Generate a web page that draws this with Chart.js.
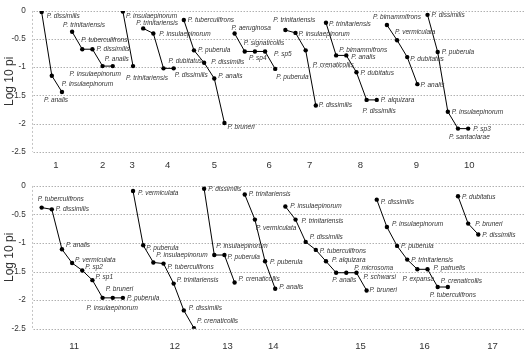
<!DOCTYPE html>
<html>
<head>
<meta charset="utf-8">
<script src="https://cdn.jsdelivr.net/npm/chart.js@4"></script>
<style>
  html, body { margin: 0; padding: 0; background: #fff; }
  canvas { position: absolute; left: 0; }
  #top { top: 0; }
  #bottom { top: 175px; }
</style>
</head>
<body>
<canvas id="top" width="528" height="175"></canvas>
<canvas id="bottom" width="528" height="181"></canvas>
<script>
// upper panel: groups 1-10
var topGroups = ['1', '2', '3', '4', '5', '6', '7', '8', '9', '10'];
var topTickPos = [1.4, 6.0, 8.9, 12.4, 17.0, 22.4, 26.4, 31.4, 36.9, 42.1];
var topSpecies = [
  ['P. dissimilis', 'P. insulaepinorum', 'P. analis'],
  ['P. trinitariensis', 'P. tuberculifrons', 'P. dissimilis', 'P. insulaepinorum', 'P. analis'],
  ['P. insulaepinorum', 'P. trinitariensis'],
  ['P. trinitariensis', 'P. insulaepinorum', 'P. dubitatus', 'P. dissimilis'],
  ['P. tuberculifrons', 'P. puberula', 'P. dissimilis', 'P. analis', 'P. bruneri'],
  ['P. aeruginosa', 'P. signaticollis', 'P. sp4', 'P. sp5', 'P. puberula'],
  ['P. trinitariensis', 'P. insulaepinorum', 'P. crenaticollis', 'P. dissimilis'],
  ['P. trinitariensis', 'P. bimammifrons', 'P. analis', 'P. dubitatus', 'P. dissimilis', 'P. alquizara'],
  ['P. bimammifrons', 'P. vermiculata', 'P. dubitatus', 'P. analis'],
  ['P. dissimilis', 'P. puberula', 'P. insulaepinorum', 'P. santaclarae', 'P. sp3']
];
var topValues = [
  [-0.02, -1.15, -1.44],
  [-0.37, -0.68, -0.68, -0.98, -0.98],
  [-0.01, -0.98],
  [-0.31, -0.40, -1.02, -1.02],
  [-0.16, -0.70, -0.92, -1.20, -1.99],
  [-0.40, -0.72, -0.72, -0.72, -1.03],
  [-0.34, -0.39, -0.70, -1.68],
  [-0.21, -0.79, -0.79, -1.09, -1.58, -1.58],
  [-0.25, -0.52, -0.82, -1.30],
  [-0.07, -0.73, -1.79, -2.09, -2.09]
];

// lower panel: groups 11-17
var bottomGroups = ['11', '12', '13', '14', '15', '16', '17'];
var bottomTickPos = [3.2, 13.1, 18.3, 22.8, 31.4, 37.7, 44.4];
var bottomSpecies = [
  ['P. tuberculifrons', 'P. dissimilis', 'P. analis', 'P. vermiculata', 'P. sp2', 'P. sp1', 'P. insulaepinorum', 'P. bruneri', 'P. puberula'],
  ['P. vermiculata', 'P. puberula', 'P. insulaepinorum', 'P. tuberculifrons', 'P. trinitariensis', 'P. dissimilis', 'P. crenaticollis'],
  ['P. dissimilis', 'P. insulaepinorum', 'P. puberula', 'P. crenaticollis'],
  ['P. trinitariensis', 'P. vermiculata', 'P. puberula', 'P. analis'],
  ['P. insulaepinorum', 'P. trinitariensis', 'P. dissimilis', 'P. tuberculifrons', 'P. alquizara', 'P. analis', 'P. microsoma', 'P. schwarsi', 'P. bruneri'],
  ['P. dissimilis', 'P. insulaepinorum', 'P. puberula', 'P. trinitariensis', 'P. expansa', 'P. patruelis', 'P. tuberculifrons', 'P. crenaticollis'],
  ['P. dubitatus', 'P. bruneri', 'P. dissimilis']
];
var bottomValues = [
  [-0.38, -0.41, -1.11, -1.35, -1.48, -1.65, -1.96, -1.96, -1.96],
  [-0.09, -1.04, -1.34, -1.36, -1.71, -2.18, -2.49],
  [-0.05, -1.21, -1.21, -1.69],
  [-0.15, -0.59, -1.32, -1.80],
  [-0.36, -0.59, -0.98, -1.12, -1.32, -1.52, -1.52, -1.52, -1.83],
  [-0.24, -0.72, -1.05, -1.29, -1.46, -1.46, -1.77, -1.77],
  [-0.18, -0.66, -0.85]
];

var yTicks = [0, -0.5, -1, -1.5, -2, -2.5];

// where each species name sits next to its point (px)
var topNudge = [
  [[5, 4], [10, 8], [-18, 8]],
  [[-9, -7], [-1, -9], [4, 0], [-33, 8], [-8, -7]],
  [[3, 5], [-7, 12]],
  [[-7, -5], [6, 1], [5, -7], [1, 7]],
  [[4, 0], [4, 0], [7, -1], [4, -2], [3, 4]],
  [[-3, -5], [-1, -8], [-6, 7], [9, 3], [1, 8]],
  [[-12, -10], [3, 1], [7, 15], [3, 0]],
  [[3, 1], [3, -5], [5, 2], [4, 1], [-4, 11], [4, 0]],
  [[-14, -8], [-2, -8], [3, 2], [3, 1]],
  [[4, 0], [4, 0], [4, 0], [-9, 8], [5, 0]]
];
var bottomNudge = [
  [[-4, -9], [4, 0], [4, -4], [3, -3], [3, -3], [3, -3], [-16, 10], [-7, -9], [4, 0]],
  [[5, 2], [3, 3], [3, -7], [4, 3], [3, -4], [5, -2], [3, -7]],
  [[4, 0], [2, -9], [3, 2], [4, -3]],
  [[4, 0], [1, 8], [5, 1], [4, -2]],
  [[5, 0], [6, 1], [4, -5], [4, 1], [6, -1], [-4, 7], [8, -5], [7, 4], [3, 0]],
  [[4, 2], [5, -3], [4, 0], [4, 0], [-15, 10], [6, -1], [-8, 8], [-7, -6]],
  [[4, 1], [7, 0], [4, 1]]
];

var nameLabels = {
  id: 'nameLabels',
  beforeDatasetsDraw: function(chart) {
    var a = chart.chartArea, ctx = chart.ctx, y = chart.scales.y;
    ctx.save();
    ctx.lineWidth = 1;
    // dotted gridlines
    ctx.strokeStyle = '#8c8c8c';
    ctx.setLineDash([1, 2]);
    yTicks.forEach(function(t) {
      var py = Math.round(y.getPixelForValue(t)) + 0.5;
      ctx.beginPath();
      ctx.moveTo(a.left + 2, py);
      ctx.lineTo(a.right, py);
      ctx.stroke();
    });
    // dashed left axis
    ctx.strokeStyle = '#c4c4c4';
    ctx.setLineDash([2, 2]);
    ctx.beginPath();
    ctx.moveTo(Math.round(a.left) + 0.5, a.top);
    ctx.lineTo(Math.round(a.left) + 0.5, a.bottom);
    ctx.stroke();
    ctx.restore();
  },
  afterDatasetsDraw: function(chart) {
    var ctx = chart.ctx;
    ctx.save();
    ctx.font = 'italic 7px "Liberation Sans", sans-serif';
    ctx.fillStyle = '#333';
    ctx.textBaseline = 'middle';
    chart.data.datasets.forEach(function(ds, di) {
      chart.getDatasetMeta(di).data.forEach(function(pt, i) {
        var n = ds.nudge[i];
        ctx.save();
        ctx.translate(pt.x + n[0], pt.y + n[1]);
        ctx.scale(0.93, 1);
        ctx.fillText(ds.names[i], 0, 0);
        ctx.restore();
      });
    });
    ctx.restore();
  }
};

function makePanel(id, groups, tickPos, species, values, nudge, padTop, axisH, tickPad) {
  var datasets = [];
  var slot = 0;
  values.forEach(function(vals, g) {
    datasets.push({
      data: vals.map(function(v, i) { return { x: slot + i, y: v }; }),
      names: species[g],
      nudge: nudge[g],
      borderColor: '#000',
      backgroundColor: '#000',
      borderWidth: 1,
      pointRadius: 2.2,
      pointBorderWidth: 0,
      tension: 0
    });
    slot += vals.length;
  });

  new Chart(document.getElementById(id), {
    type: 'line',
    data: { datasets: datasets },
    options: {
      responsive: false,
      animation: false,
      layout: { padding: { top: padTop, left: 2, right: 1, bottom: 0 } },
      plugins: { legend: { display: false }, tooltip: { enabled: false } },
      scales: {
        x: {
          type: 'linear',
          min: -0.98,
          max: 47.5,
          grid: { display: false, drawTicks: false },
          border: { display: false },
          afterBuildTicks: function(scale) {
            scale.ticks = tickPos.map(function(p) { return { value: p }; });
          },
          afterFit: function(scale) { scale.height = axisH; },
          ticks: {
            autoSkip: false,
            maxRotation: 0,
            padding: tickPad,
            color: '#333',
            font: { family: '"Liberation Sans", sans-serif', size: 9.5 },
            callback: function(v, i) { return groups[i]; }
          }
        },
        y: {
          min: -2.5,
          max: 0,
          afterBuildTicks: function(scale) {
            scale.ticks = yTicks.map(function(t) { return { value: t }; });
          },
          afterFit: function(scale) { scale.width = 29.7; },
          grid: { display: false, drawTicks: false },
          border: { display: false },
          title: {
            display: true,
            text: 'Log 10 pi',
            color: '#333',
            padding: 0,
            font: { family: '"Liberation Sans", sans-serif', size: 12 }
          },
          ticks: {
            padding: 6,
            color: '#333',
            font: { family: '"Liberation Sans", sans-serif', size: 8.2 },
            callback: function(v) { return String(v); }
          }
        }
      }
    },
    plugins: [nameLabels]
  });
}

makePanel('top', topGroups, topTickPos, topSpecies, topValues, topNudge, 10, 23.3, 8);
makePanel('bottom', bottomGroups, bottomTickPos, bottomSpecies, bottomValues, bottomNudge, 6, 27.3, 12);
</script>
</body>
</html>
